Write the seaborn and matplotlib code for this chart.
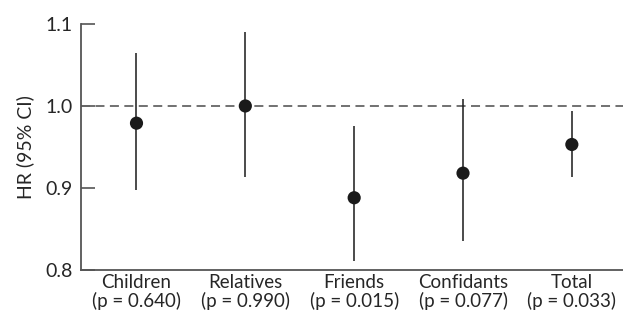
import matplotlib
matplotlib.use("Agg")
import matplotlib.pyplot as plt
import seaborn as sns
import pandas as pd

# 데이터
groups = ["Children", "Relatives", "Friends", "Confidants", "Total"]
p_values = ["0.640", "0.990", "0.015", "0.077", "0.033"]
hr = [0.979, 1.000, 0.888, 0.918, 0.953]
ci_low = [0.898, 0.913, 0.811, 0.835, 0.913]
ci_high = [1.065, 1.090, 0.975, 1.009, 0.994]

df = pd.DataFrame({"group": groups, "hr": hr, "lo": ci_low, "hi": ci_high})

sns.set_style("ticks")
plt.rcParams["font.family"] = ["Lato", "DejaVu Sans"]

fig = plt.figure(figsize=(6.23, 3.16), dpi=100)
ax = fig.add_axes([0.130, 0.146, 0.870, 0.778])

# 기준선 HR = 1
ax.axhline(1.0, color="#666666", linestyle=(0, (5, 3)), linewidth=1.3, zorder=1)

# 신뢰구간
ax.vlines(range(len(groups)), df["lo"], df["hi"], color="#1a1a1a", linewidth=1.1, zorder=2)

sns.scatterplot(data=df, x="group", y="hr", ax=ax, s=90, color="#1a1a1a",
                edgecolor="none", zorder=3, legend=False)

ax.set_xlim(-0.51, 4.47)
ax.set_ylim(0.8, 1.1)
ax.set_yticks([0.8, 0.9, 1.0, 1.1])
ax.set_yticklabels(["0.8", "0.9", "1.0", "1.1"], fontsize=14)
ax.set_xticks(range(len(groups)))
ax.set_xticklabels([f"{g}\n(p = {p})" for g, p in zip(groups, p_values)],
                   fontsize=13.5, linespacing=1.05)
ax.tick_params(axis="x", length=0, pad=3)
ax.tick_params(axis="y", direction="in", length=10, width=1.2, color="#555555", pad=6)

ax.set_xlabel("")
ax.set_ylabel("HR (95% CI)", fontsize=14, labelpad=8)

sns.despine(ax=ax)
for side in ["left", "bottom"]:
    ax.spines[side].set_color("#555555")
    ax.spines[side].set_linewidth(1.3)

fig.savefig("out.png", dpi=100)
